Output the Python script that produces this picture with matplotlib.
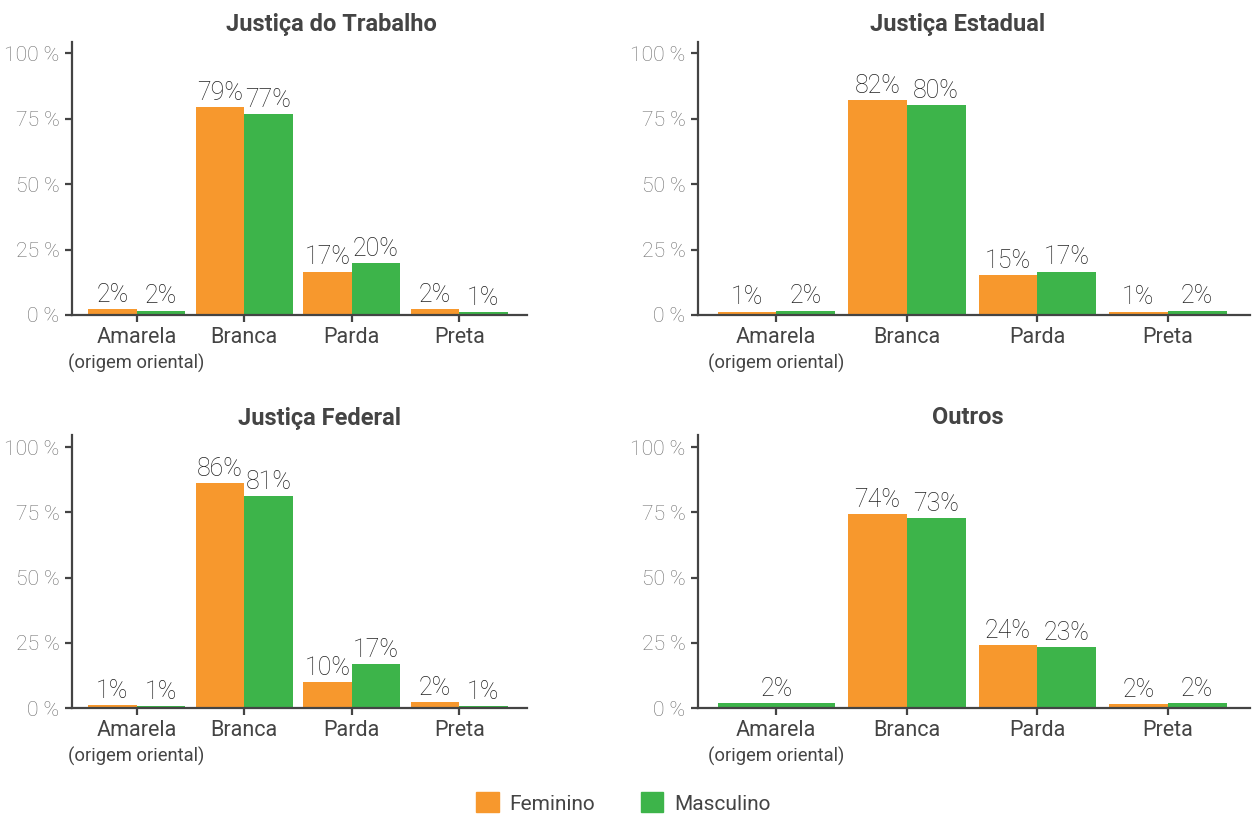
import matplotlib.pyplot as plt
from matplotlib.patches import Patch
import numpy as np

plt.rcParams['font.family'] = ['Roboto', 'DejaVu Sans']

categories = ['Amarela', 'Branca', 'Parda', 'Preta']
titles = ['Justiça do Trabalho', 'Justiça Estadual', 'Justiça Federal', 'Outros']

# percent values per panel, order follows categories (None = no bar)
trabalho_fem = [2.1, 79.4, 16.6, 2.1]
trabalho_masc = [1.7, 76.8, 19.7, 1.2]
estadual_fem = [1.3, 82.1, 15.1, 1.3]
estadual_masc = [1.7, 80.2, 16.6, 1.7]
federal_fem = [1.1, 86.2, 10.0, 2.2]
federal_masc = [0.6, 81.2, 16.9, 0.8]
outros_fem = [None, 74.3, 24.1, 1.5]
outros_masc = [2.0, 72.8, 23.4, 2.0]

fem = [trabalho_fem, estadual_fem, federal_fem, outros_fem]
masc = [trabalho_masc, estadual_masc, federal_masc, outros_masc]

orange = '#F7982D'
green = '#3DB44A'
axis_col = '#444444'

W, H = 1252, 814
fig = plt.figure(figsize=(W / 100, H / 100), dpi=100)

# axes boxes in pixels: left, right, y of 0, y of top
boxes = [(72, 527, 315, 42), (698, 1250, 315, 42),
         (72, 527, 708, 435), (698, 1250, 708, 435)]
title_pos = [(331, 24), (958, 24), (319, 418), (968, 418)]
ytop = [104.2, 104.2, 104.6, 104.6]

bw = 0.45
x = np.arange(len(categories))


def label(ax, xp, v):
    ax.text(xp, v + 0.8, f'{round(v)}%', ha='center', va='bottom',
            fontsize=18, fontweight='light', color='#222222')


for i in range(4):
    l, r, yb, yt = boxes[i]
    ax = fig.add_axes([l / W, (H - yb) / H, (r - l) / W, (yb - yt) / H])
    for j in range(len(categories)):
        f, m = fem[i][j], masc[i][j]
        if f is None:
            ax.bar(x[j], m, width=2 * bw, color=green)
            label(ax, x[j], m)
            continue
        ax.bar(x[j] - bw / 2, f, width=bw, color=orange)
        ax.bar(x[j] + bw / 2, m, width=bw, color=green)
        label(ax, x[j] - bw / 2, f)
        label(ax, x[j] + bw / 2, m)
    ax.set_xlim(-0.6, 3.63)
    ax.set_ylim(0, ytop[i])
    ax.set_yticks([0, 25, 50, 75, 100])
    ax.set_yticklabels(['0 %', '25 %', '50 %', '75 %', '100 %'],
                       fontsize=15.2, fontweight='light')
    ax.set_xticks(x)
    ax.set_xticklabels(categories, fontsize=15.5)
    ax.text(0, -0.142, '(origem oriental)', transform=ax.get_xaxis_transform(),
            ha='center', va='top', fontsize=13.2, color=axis_col)
    for s in ['top', 'right']:
        ax.spines[s].set_visible(False)
    for s in ['left', 'bottom']:
        ax.spines[s].set_color(axis_col)
        ax.spines[s].set_linewidth(1.6)
    ax.tick_params(axis='both', colors=axis_col, width=1.6, length=5)
    ax.tick_params(axis='y', labelcolor='#6e6e6e', pad=4)
    ax.tick_params(axis='x', labelcolor=axis_col, pad=4)
    tx, ty = title_pos[i]
    fig.text(tx / W, 1 - ty / H, titles[i], ha='center', va='center',
             fontsize=17, fontweight='bold', color=axis_col)

handles = [Patch(color=orange, label='Feminino'), Patch(color=green, label='Masculino')]
fig.legend(handles=handles, loc='center', bbox_to_anchor=(623 / W, 1 - 803 / H),
           ncol=2, frameon=False, fontsize=15, handlelength=1.1, handleheight=1.1,
           handletextpad=0.5, columnspacing=2.2, labelcolor=axis_col)

fig.savefig('out.png', dpi=100)
